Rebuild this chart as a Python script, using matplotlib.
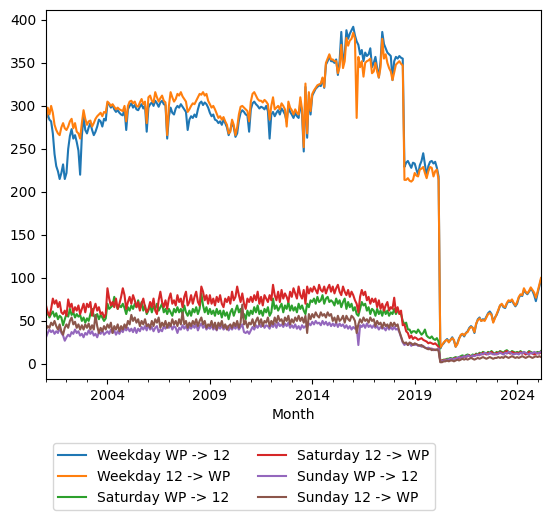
import matplotlib
matplotlib.use("Agg")
import matplotlib.pyplot as plt
import pandas as pd

start_month = "2001-01"

weekday_wp_12 = [
    286, 290, 284, 282, 268, 244, 230, 224, 215, 222, 232, 215,
    222, 250, 265, 273, 262, 266, 258, 248, 220, 265, 288, 272,
    268, 275, 280, 272, 266, 270, 276, 284, 282, 276, 285, 283,
    303, 302, 298, 301, 296, 293, 295, 292, 290, 289, 297, 272,
    296, 300, 303, 298, 301, 296, 295, 299, 302, 297, 300, 270,
    298, 302, 304, 300, 306, 303, 299, 304, 306, 302, 301, 262,
    288, 298, 292, 290, 297, 300, 298, 302, 299, 296, 293, 272,
    284, 288, 286, 290, 287, 296, 303, 305, 301, 304, 302, 298,
    292, 288, 290, 284, 283, 280, 282, 278, 284, 280, 275, 266,
    272, 281, 275, 264, 268, 283, 292, 295, 293, 290, 289, 270,
    296, 303, 305, 302, 300, 297, 299, 298, 296, 300, 294, 262,
    290, 293, 288, 292, 295, 290, 297, 294, 290, 282, 300, 293,
    290, 286, 292, 288, 286, 305, 290, 247, 322, 263, 313, 290,
    312, 316, 320, 322, 324, 323, 332, 321, 348, 352, 358, 352,
    352, 350, 354, 336, 352, 386, 350, 360, 388, 378, 384, 388,
    392, 382, 375, 371, 360, 365, 352, 362, 358, 360, 367, 345,
    350, 357, 344, 333, 352, 386, 372, 367, 362, 360, 358, 330,
    352, 357, 355, 358, 356, 355, 229, 234, 236, 232, 228, 234,
    233, 226, 220, 231, 236, 245, 232, 218, 230, 235, 236, 233,
    235, 228, 218, 18, 22, 24, 27, 29, 26, 28, 31, 27,
    20, 24, 30, 33, 35, 32, 36, 38, 42, 44, 42, 36,
    46, 52, 54, 50, 52, 51, 55, 59, 61, 58, 49, 54,
    57, 62, 68, 69, 66, 65, 70, 73, 72, 74, 70, 67,
    70, 77, 80, 79, 86, 83, 81, 84, 87, 85, 80, 73,
    82, 90, 98,
]

weekday_12_wp = [
    283, 298, 290, 300, 292, 278, 272, 268, 266, 275, 280, 274,
    272, 276, 282, 285, 274, 280, 270, 268, 262, 280, 295, 285,
    278, 282, 283, 276, 280, 285, 288, 290, 292, 288, 293, 292,
    305, 303, 300, 302, 299, 296, 298, 296, 295, 294, 300, 282,
    300, 305, 306, 303, 305, 300, 299, 304, 308, 302, 305, 280,
    310, 312, 306, 304, 316, 310, 305, 309, 312, 306, 304, 266,
    300, 316, 310, 305, 308, 314, 312, 316, 311, 308, 305, 293,
    296, 300, 303, 302, 306, 310, 314, 313, 316, 312, 314, 306,
    302, 298, 300, 296, 291, 286, 288, 284, 287, 282, 278, 268,
    270, 284, 278, 266, 275, 290, 299, 300, 298, 296, 294, 282,
    305, 314, 316, 312, 308, 306, 306, 304, 307, 305, 302, 284,
    300, 310, 296, 298, 300, 296, 303, 300, 296, 276, 305, 298,
    295, 290, 296, 292, 290, 310, 296, 252, 326, 268, 316, 294,
    314, 318, 321, 324, 325, 326, 333, 322, 350, 355, 360, 354,
    354, 352, 352, 338, 345, 371, 344, 352, 379, 370, 376, 378,
    385, 378, 286, 357, 345, 352, 334, 350, 352, 353, 355, 338,
    340, 350, 340, 333, 345, 378, 355, 360, 350, 344, 340, 330,
    339, 348, 350, 352, 349, 347, 214, 214, 216, 213, 212, 214,
    222, 219, 218, 226, 227, 229, 222, 216, 224, 229, 228, 218,
    224, 226, 214, 19, 22, 25, 27, 28, 25, 28, 30, 28,
    20, 23, 29, 34, 35, 33, 36, 37, 41, 43, 42, 37,
    47, 51, 53, 50, 51, 50, 54, 58, 59, 57, 48, 53,
    58, 63, 68, 70, 67, 66, 71, 74, 73, 75, 71, 68,
    72, 78, 81, 80, 88, 84, 82, 85, 89, 86, 83, 77,
    84, 92, 100,
]

saturday_wp_12 = [
    56, 60, 54, 58, 61, 55, 59, 52, 56, 54, 45, 52,
    58, 55, 64, 57, 60, 54, 58, 55, 57, 50, 54, 48,
    53, 50, 58, 64, 56, 54, 58, 52, 57, 54, 50, 53,
    70, 64, 66, 68, 78, 70, 64, 68, 66, 70, 65, 58,
    66, 62, 68, 64, 70, 66, 74, 64, 72, 62, 68, 58,
    62, 68, 60, 67, 64, 70, 62, 66, 70, 60, 64, 58,
    64, 60, 56, 64, 60, 66, 60, 64, 58, 68, 60, 56,
    62, 56, 64, 60, 66, 58, 64, 82, 68, 60, 66, 58,
    64, 58, 62, 56, 64, 58, 62, 54, 62, 56, 60, 52,
    60, 64, 56, 62, 68, 60, 64, 54, 58, 52, 62, 56,
    62, 58, 66, 60, 68, 58, 62, 56, 64, 60, 66, 56,
    60, 76, 64, 68, 62, 66, 70, 60, 68, 64, 72, 62,
    68, 62, 66, 60, 70, 64, 68, 62, 58, 70, 66, 74,
    72, 76, 70, 78, 72, 74, 80, 70, 76, 78, 72, 74,
    72, 68, 76, 70, 74, 66, 72, 76, 64, 72, 66, 70,
    62, 66, 58, 56, 64, 72, 68, 70, 62, 66, 58, 64,
    62, 56, 64, 58, 62, 56, 64, 58, 62, 56, 60, 58,
    64, 58, 62, 60, 58, 50, 46, 48, 40, 40, 36, 38,
    38, 36, 40, 37, 34, 36, 40, 33, 31, 30, 32, 29,
    28, 30, 26, 3, 4, 5, 5, 6, 6, 7, 6, 7,
    8, 7, 8, 9, 10, 9, 10, 11, 10, 9, 11, 10,
    12, 11, 13, 12, 14, 13, 12, 14, 13, 15, 13, 12,
    14, 13, 15, 14, 13, 15, 16, 14, 13, 15, 14, 13,
    14, 13, 15, 13, 14, 12, 13, 15, 14, 13, 12, 13,
    14, 13, 15,
]

saturday_12_wp = [
    68, 60, 56, 64, 76, 70, 74, 66, 72, 60, 58, 62,
    56, 75, 66, 70, 60, 66, 62, 68, 58, 64, 70, 60,
    70, 66, 72, 56, 64, 70, 62, 66, 58, 60, 54, 58,
    88, 76, 68, 72, 66, 76, 64, 70, 78, 88, 80, 64,
    72, 78, 70, 80, 74, 66, 72, 62, 70, 76, 66, 60,
    64, 72, 66, 76, 62, 58, 74, 84, 72, 66, 74, 64,
    76, 82, 70, 74, 68, 80, 72, 76, 66, 78, 84, 68,
    72, 80, 70, 78, 84, 72, 68, 90, 84, 74, 80, 70,
    80, 70, 76, 68, 78, 72, 80, 70, 66, 76, 72, 78,
    70, 84, 74, 78, 90, 80, 72, 82, 70, 64, 76, 72,
    78, 72, 80, 74, 84, 70, 78, 68, 80, 76, 72, 80,
    74, 92, 80, 74, 84, 72, 86, 76, 82, 78, 72, 84,
    78, 88, 82, 76, 90, 80, 76, 86, 70, 90, 82, 88,
    84, 90, 86, 82, 92, 86, 84, 90, 82, 88, 92, 84,
    90, 82, 88, 92, 84, 80, 90, 84, 80, 86, 78, 84,
    80, 74, 70, 60, 78, 86, 80, 84, 74, 78, 70, 76,
    72, 76, 66, 74, 64, 70, 62, 68, 72, 62, 66, 64,
    77, 60, 66, 58, 62, 45, 46, 38, 36, 30, 33, 29,
    31, 30, 28, 29, 30, 28, 27, 26, 24, 25, 24, 23,
    24, 22, 20, 3, 4, 4, 5, 4, 5, 6, 5, 6,
    7, 6, 7, 8, 7, 9, 8, 9, 10, 8, 9, 10,
    11, 10, 12, 11, 13, 12, 11, 13, 12, 14, 12, 11,
    13, 12, 14, 13, 12, 14, 15, 13, 12, 14, 13, 12,
    13, 12, 14, 12, 13, 11, 12, 14, 13, 12, 11, 12,
    13, 12, 14,
]

sunday_wp_12 = [
    31, 36, 40, 37, 39, 35, 38, 36, 42, 36, 33, 27,
    31, 34, 32, 37, 35, 40, 36, 38, 33, 35, 31, 36,
    34, 39, 35, 38, 33, 35, 31, 37, 35, 39, 34, 36,
    38, 35, 40, 36, 39, 34, 38, 35, 40, 37, 42, 39,
    42, 38, 41, 37, 42, 36, 41, 38, 43, 40, 44, 39,
    46, 40, 43, 38, 42, 44, 37, 40, 38, 44, 41, 45,
    42, 46, 40, 44, 42, 36, 42, 40, 45, 41, 44, 39,
    44, 41, 45, 42, 46, 39, 44, 47, 42, 45, 40, 43,
    41, 45, 40, 43, 39, 44, 41, 45, 40, 42, 44, 39,
    43, 40, 44, 41, 45, 40, 43, 46, 37, 36, 38, 35,
    39, 43, 40, 45, 42, 46, 43, 47, 42, 45, 44, 41,
    46, 43, 47, 42, 48, 44, 46, 43, 47, 44, 48, 42,
    45, 42, 46, 41, 44, 40, 45, 42, 44, 43, 47, 45,
    49, 46, 50, 47, 48, 45, 50, 46, 49, 45, 48, 44,
    47, 44, 48, 43, 47, 44, 46, 42, 45, 41, 44, 40,
    43, 41, 44, 22, 45, 43, 46, 42, 47, 43, 45, 42,
    45, 42, 44, 40, 43, 41, 42, 39, 44, 40, 43, 40,
    43, 40, 41, 37, 31, 25, 22, 24, 22, 24, 21, 23,
    22, 23, 21, 22, 20, 21, 19, 18, 19, 17, 18, 16,
    17, 16, 18, 3, 3, 4, 4, 5, 5, 6, 5, 6,
    6, 7, 8, 7, 8, 9, 8, 10, 9, 8, 10, 9,
    10, 11, 10, 12, 11, 13, 12, 11, 13, 12, 11, 12,
    11, 12, 13, 12, 11, 13, 12, 14, 13, 12, 11, 12,
    12, 11, 13, 12, 14, 13, 12, 11, 13, 12, 14, 13,
    12, 13, 14,
]

sunday_12_wp = [
    40, 44, 42, 48, 45, 50, 44, 40, 46, 38, 34, 42,
    46, 42, 50, 54, 46, 49, 42, 46, 40, 45, 40, 46,
    42, 47, 40, 45, 40, 57, 44, 36, 42, 38, 44, 40,
    46, 42, 48, 36, 44, 40, 46, 38, 44, 40, 46, 42,
    50, 46, 57, 50, 54, 48, 52, 44, 50, 46, 52, 44,
    46, 42, 50, 44, 52, 48, 54, 42, 48, 44, 50, 42,
    48, 44, 52, 46, 50, 44, 52, 46, 60, 46, 50, 42,
    48, 44, 50, 46, 52, 44, 50, 54, 46, 50, 42, 46,
    44, 50, 42, 48, 40, 48, 44, 50, 42, 46, 40, 44,
    46, 42, 48, 44, 50, 42, 48, 69, 46, 50, 42, 48,
    46, 52, 44, 50, 54, 46, 52, 44, 50, 48, 54, 44,
    50, 46, 54, 48, 56, 50, 52, 46, 54, 50, 56, 46,
    52, 48, 54, 50, 56, 50, 54, 48, 56, 36, 58, 52,
    58, 54, 60, 56, 54, 60, 56, 58, 54, 60, 56, 58,
    50, 54, 48, 56, 50, 52, 56, 48, 56, 52, 50, 56,
    54, 50, 36, 46, 52, 48, 54, 50, 52, 48, 54, 50,
    52, 44, 50, 46, 48, 42, 48, 44, 46, 42, 48, 44,
    48, 44, 46, 38, 32, 26, 24, 25, 22, 25, 24, 22,
    24, 23, 22, 21, 22, 20, 19, 18, 17, 18, 16, 17,
    16, 17, 15, 2, 2, 3, 3, 4, 3, 4, 4, 3,
    4, 5, 4, 5, 6, 5, 6, 5, 6, 7, 6, 5,
    6, 7, 6, 7, 8, 7, 6, 7, 8, 7, 6, 7,
    7, 8, 7, 8, 7, 9, 8, 7, 8, 9, 8, 7,
    8, 7, 8, 9, 8, 7, 8, 9, 8, 7, 8, 9,
    8, 9, 8,
]

series_names = [
    "Weekday WP -> 12", "Weekday 12 -> WP",
    "Saturday WP -> 12", "Saturday 12 -> WP",
    "Sunday WP -> 12", "Sunday 12 -> WP",
]

n = len(weekday_wp_12)
idx = pd.date_range(start_month, periods=n, freq="MS", name="Month")
df = pd.DataFrame({
    series_names[0]: weekday_wp_12,
    series_names[1]: weekday_12_wp,
    series_names[2]: saturday_wp_12,
    series_names[3]: saturday_12_wp,
    series_names[4]: sunday_wp_12,
    series_names[5]: sunday_12_wp,
}, index=idx)

W, H = 552, 515
fig = plt.figure(figsize=(W / 100, H / 100), dpi=100)
ax = fig.add_axes([46 / W, (H - 379) / H, (541 - 46) / W, (379 - 10) / H])
df.plot(ax=ax, legend=False)
ax.set_xlabel("Month")
ax.legend(loc="upper center", bbox_to_anchor=(0.4, -0.155), ncol=2)
fig.savefig("out.png", dpi=100)
